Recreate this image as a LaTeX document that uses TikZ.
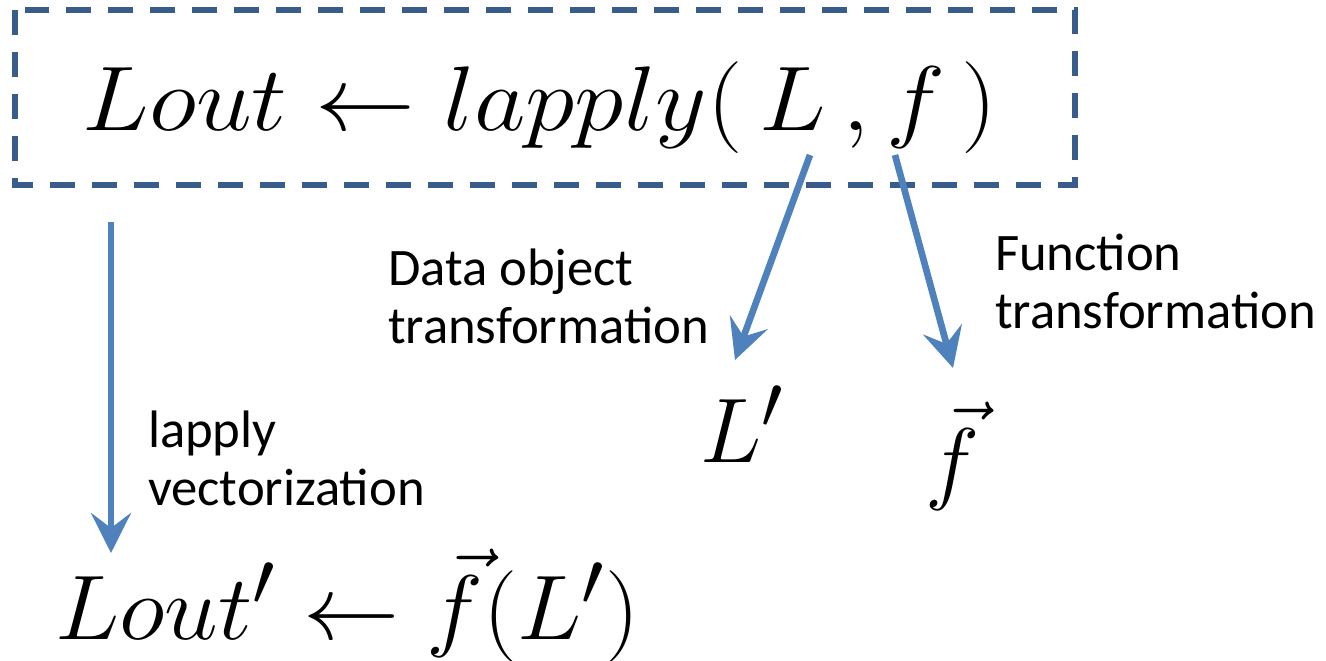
\documentclass[tikz,border=0pt]{standalone}
\usepackage{fontspec}
\setmainfont{Carlito}
\usetikzlibrary{arrows.meta}
\definecolor{FrameBlue}{RGB}{56,93,138}
\definecolor{FlowBlue}{RGB}{79,129,189}

\begin{document}
\begin{tikzpicture}[x=0.02cm, y=-0.02cm,
    every node/.style={inner sep=0pt, outer sep=0pt},
    eqn/.style={font=\Huge, scale=2.1},
    note/.style={align=left, font=\fontsize{30}{33}\selectfont},
    flow/.style={-{Stealth[length=0.8cm, width=0.8cm, inset=0.3cm]}, line width=3.8pt, FlowBlue},
    frame/.style={dash pattern=on 0.5cm off 0.34cm, line width=3.2pt, FrameBlue}]
  \useasboundingbox (0,0) rectangle (1326,660);
  % dashed frame round the call
  \draw[frame] (15,10) rectangle (1075,185);
  \node[eqn, xscale=1.09, anchor=base] (call) at (540,130) {$Lout \leftarrow lapply(\,L\,,f\,)$};
  % results
  \node[eqn, anchor=base west] (lprime) at (700,462) {$L'$};
  \node[eqn, anchor=base west] (fvec) at (925,492) {$\vec{f}$};
  \node[eqn, xscale=1.05, anchor=base west] (result) at (55,639) {$Lout' \leftarrow \vec{f}(L')$};
  % labels (anchored at the last line)
  \node[note, anchor=base west] (vecnote) at (148,505) {lapply\\vectorization};
  \node[note, anchor=base west] (datanote) at (388,343) {Data object\\transformation};
  \node[note, anchor=base west] (funnote) at (995,328) {Function\\transformation};
  % arrows
  \coordinate (vtop) at (111,222);
  \coordinate (vend) at (111,553);
  \coordinate (lsrc) at (810,155);
  \coordinate (ltip) at (735,360);
  \coordinate (fsrc) at (895,155);
  \coordinate (ftip) at (953,368);
  \draw[flow] (vtop) -- (vend);
  \draw[flow] (lsrc) -- (ltip);
  \draw[flow] (fsrc) -- (ftip);
\end{tikzpicture}
\end{document}
